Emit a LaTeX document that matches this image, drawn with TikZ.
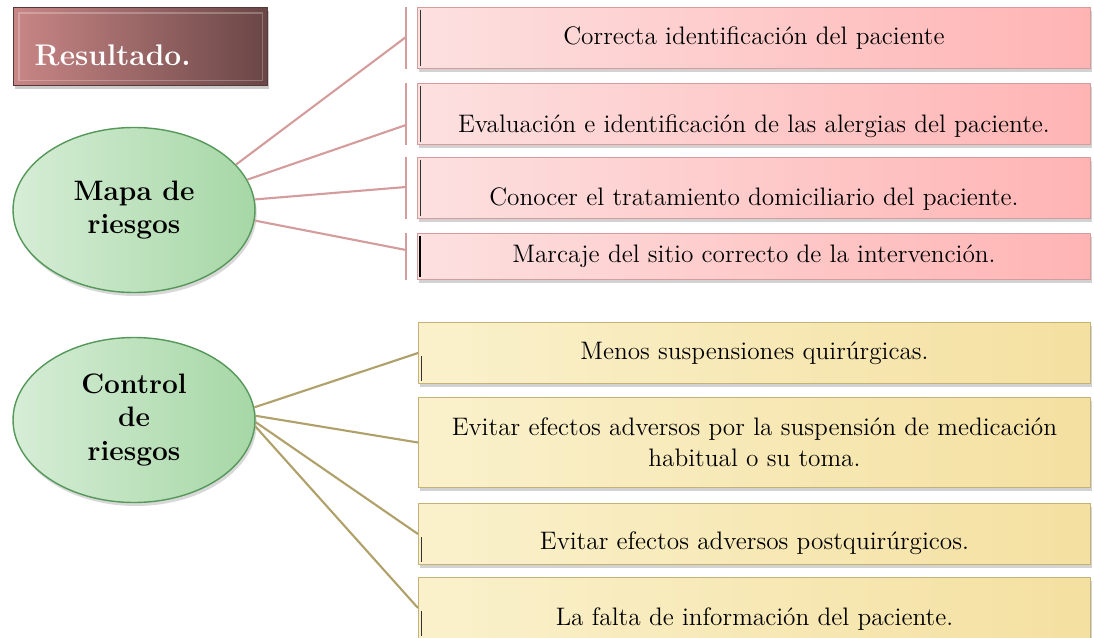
\documentclass[tikz,border=0pt]{standalone}
\usepackage{tikz}
\usetikzlibrary{shapes.geometric,shadows,positioning}
\definecolor{rosaL}{HTML}{FDE0E0}
\definecolor{rosaR}{HTML}{FFB4B4}
\definecolor{rosaB}{HTML}{D49C9C}
\definecolor{amaL}{HTML}{FAF1CC}
\definecolor{amaR}{HTML}{F4E0A0}
\definecolor{amaB}{HTML}{C4B276}
\definecolor{verdeL}{HTML}{D6EDD6}
\definecolor{verdeR}{HTML}{A6D7A6}
\definecolor{verdeB}{HTML}{56985A}
\definecolor{titL}{HTML}{C98686}
\definecolor{titR}{HTML}{6A4646}

\begin{document}
\begin{tikzpicture}[x=0.02cm,y=-0.02cm,thick,
	risk node/.style={ellipse,draw=verdeB,left color=verdeL,right color=verdeR,
		minimum width=4.84cm,minimum height=3.3cm,align=center,
		font=\fontsize{16}{19}\selectfont\bfseries,
		drop shadow={opacity=0.3,shadow xshift=1pt,shadow yshift=-2pt}},
	pink box/.style={rectangle,draw=rosaB,semithick,left color=rosaL,right color=rosaR,
		minimum width=13.46cm,minimum height=1.22cm,align=center,anchor=north west,
		font=\fontsize{14.4}{17.6}\selectfont,
		drop shadow={opacity=0.35,shadow xshift=1pt,shadow yshift=-2pt}},
	gold box/.style={pink box,minimum width=13.44cm,draw=amaB,left color=amaL,right color=amaR},
	sunk/.style={text depth=0.25em,text height=#1},
	pink line/.style={draw=rosaB,line width=1.2pt},
	gold line/.style={draw=amaB!90!black,line width=1.2pt},
	edge mark/.style={draw=black!80,line width=0.5pt}]
	
	\fill[white] (0,0) rectangle (1094,638);
	\useasboundingbox (0,0) rectangle (1094,638);
	
	\node[rectangle,draw=titR!80!black,left color=titL,right color=titR,
		minimum width=5.08cm,minimum height=1.56cm,text=white,anchor=north west,
		inner xsep=0.42cm,text width=4.24cm,sunk=2.3em,text depth=0.2em,
		font=\fontsize{17}{19}\selectfont\bfseries,
		drop shadow={opacity=0.4,shadow xshift=1pt,shadow yshift=-2pt}]
		(titulo) at (13,7) {Resultado.};
	\draw[white,opacity=0.25,line width=0.6pt] ([shift={(6,6)}]titulo.north west)
		rectangle ([shift={(-6,-6)}]titulo.south east);
	
	\node[risk node] (mapa) at (134,210) {Mapa de\\riesgos};
	\node[risk node] (control) at (134,420) {Control\\de\\riesgos};
	
	\node[pink box] (r1) at (417,7) {Correcta identificación del paciente};
	\node[pink box,sunk=2.4em] (r2) at (417,83) {Evaluación e identificación de las alergias del paciente.};
	\node[pink box,sunk=2.23em] (r3) at (417,157) {Conocer el tratamiento domiciliario del paciente.};
	\node[pink box,minimum height=0.92cm] (r4) at (417,233) {Marcaje del sitio correcto de la intervención.};
	
	\node[gold box] (g1) at (418,322) {Menos suspensiones quirúrgicas.};
	\node[gold box,minimum height=1.8cm] (g2) at (418,397)
		{Evitar efectos adversos por la suspensión de medicación\\habitual o su toma.};
	\node[gold box,sunk=2.06em] (g3) at (418,503) {Evitar efectos adversos postquirúrgicos.};
	\node[gold box,sunk=2.25em] (g4) at (418,577) {La falta de información del paciente.};
	
	\foreach \b in {r1,r2,r3}
		\draw[edge mark] ([shift={(3,3)}]\b.north west) -- ([shift={(3,-3)}]\b.south west);
	\draw[edge mark,line width=1.2pt,draw=black] ([shift={(3,3)}]r4.north west) -- ([shift={(3,-3)}]r4.south west);
	\foreach \b in {g1,g3,g4}
		\draw[edge mark] ([shift={(3,3)}]\b.west) -- ([shift={(3,-3)}]\b.south west);
	
	\coordinate (p1) at (406,37);
	\coordinate (p2) at (406,125);
	\coordinate (p3) at (406,187);
	\coordinate (p4) at (406,250);
	
	\foreach \i in {1,...,4}
		\draw[pink line] (p\i |- r\i.north) -- (p\i |- r\i.south);
	
	\path[pink line]
	(mapa.24) edge (p1)
	(mapa.15) edge (p2)
	(mapa.5) edge (p3)
	(mapa.-5) edge (p4);
	
	\path[gold line]
	(control.6) edge (g1.west)
	(control.2) edge (g2.west)
	(control.-1) edge (g3.west)
	(control.-3) edge (g4.west);
\end{tikzpicture}
\end{document}
